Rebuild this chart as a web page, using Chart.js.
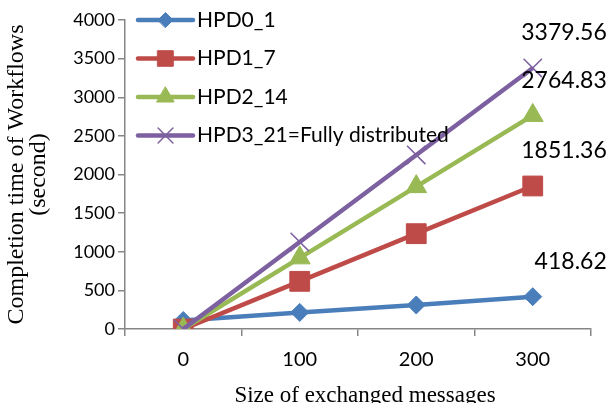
<!DOCTYPE html>
<html>
<head>
<meta charset="utf-8">
<script src="https://cdn.jsdelivr.net/npm/chart.js@4.4.1/dist/chart.umd.min.js"></script>
<style>
  html, body { margin: 0; padding: 0; background: #fff; }
  #wrap { width: 611px; height: 403px; }
</style>
</head>
<body>
<div id="wrap"><canvas id="chart"></canvas></div>
<script>
// data
const messageSizes = ['0', '100', '200', '300'];
const seriesNames = ['HPD0_1', 'HPD1_7', 'HPD2_14', 'HPD3_21=Fully distributed'];
const hpd0 = [110, 215, 311, 418.62];
const hpd1 = [0, 617, 1234, 1851.36];
const hpd2 = [0, 921, 1843, 2764.83];
const hpd3 = [0, 1127, 2253, 3379.56];
const yTicks = [0, 500, 1000, 1500, 2000, 2500, 3000, 3500, 4000];
const xTitle = 'Size of exchanged messages';
const yTitle = ['Completion time of Workflows', '(second)'];

const colors = ['#4a7ebb', '#be4b48', '#98b954', '#7d60a0'];
const styles = ['rectRot', 'rect', 'triangle', 'crossRot'];
const radii = [9, 14, 12, 13];
const legendRadii = [7.5, 11, 10, 10.5];

const series = [hpd0, hpd1, hpd2, hpd3];
const datasets = series.map((values, i) => ({
    label: seriesNames[i],
    data: values,
    borderColor: colors[i],
    backgroundColor: colors[i],
    borderWidth: 4.5,
    pointStyle: styles[i],
    pointRadius: radii[i],
    pointBackgroundColor: colors[i],
    pointBorderColor: colors[i],
    pointBorderWidth: styles[i] === 'crossRot' ? 1.5 : 1,
    tension: 0,
    order: series.length - i   // later series sit on top, like the original
}));

// legend drawn inside the plot, top left
const insideLegend = {
    id: 'insideLegend',
    afterDraw(chart) {
        const ctx = chart.ctx;
        const area = chart.chartArea;
        ctx.save();
        chart.data.datasets.forEach((ds, i) => {
            const y = area.top + i * 38.5;
            const x0 = area.left + 13;
            const x1 = x0 + 55;
            ctx.strokeStyle = ds.borderColor;
            ctx.lineWidth = 4.5;
            ctx.lineCap = 'round';
            ctx.beginPath();
            ctx.moveTo(x0, y);
            ctx.lineTo(x1, y);
            ctx.stroke();
            ctx.fillStyle = ds.borderColor;
            ctx.lineWidth = ds.pointBorderWidth;
            Chart.helpers.drawPoint(ctx, {
                pointStyle: ds.pointStyle,
                radius: legendRadii[i],
                rotation: 0,
                borderWidth: ds.pointBorderWidth
            }, (x0 + x1) / 2, y);
            ctx.fillStyle = '#000';
            ctx.font = '21px Lato';
            ctx.textAlign = 'left';
            ctx.textBaseline = 'middle';
            ctx.fillText(ds.label, x1 + 4, y);
        });
        ctx.restore();
    }
};

// value labels on the last point of each line, plus the x axis title
const lastLabels = {
    id: 'lastLabels',
    afterDatasetsDraw(chart) {
        const ctx = chart.ctx;
        ctx.save();
        ctx.fillStyle = '#000';
        ctx.font = '23px Lato';
        ctx.textAlign = 'right';
        ctx.textBaseline = 'middle';
        chart.data.datasets.forEach((ds, i) => {
            const meta = chart.getDatasetMeta(i);
            const last = ds.data.length - 1;
            const pt = meta.data[last];
            ctx.fillText(ds.data[last].toFixed(2), pt.x + 74, pt.y - 35);
        });
        const area = chart.chartArea;
        ctx.font = '23px "Liberation Serif"';
        ctx.textAlign = 'center';
        ctx.fillText(xTitle, (area.left + area.right) / 2 + 7, area.bottom + 67);
        ctx.restore();
    }
};

const axisGray = '#868686';

new Chart(document.getElementById('chart'), {
    type: 'line',
    data: { labels: messageSizes, datasets: datasets },
    options: {
        responsive: true,
        maintainAspectRatio: false,
        animation: false,
        layout: { padding: { top: 20, right: 20, left: 0, bottom: 0 } },
        plugins: {
            legend: { display: false },
            tooltip: { enabled: false }
        },
        scales: {
            x: {
                offset: true,
                grid: {
                    offset: true,
                    drawOnChartArea: false,
                    drawTicks: true,
                    tickLength: 7,
                    color: axisGray,
                    lineWidth: 1.5
                },
                border: { color: axisGray, width: 1.5 },
                ticks: {
                    color: '#000',
                    font: { family: 'Lato', size: 20 },
                    padding: 12,
                    maxRotation: 0
                },
                afterFit(scale) { scale.height = 74; }
            },
            y: {
                min: 0,
                max: 4000,
                afterBuildTicks(scale) {
                    scale.ticks = yTicks.map(v => ({ value: v }));
                },
                grid: {
                    drawOnChartArea: false,
                    drawTicks: true,
                    tickLength: 7,
                    color: axisGray,
                    lineWidth: 1.5
                },
                border: { color: axisGray, width: 1.5 },
                ticks: {
                    color: '#000',
                    font: { family: 'Lato', size: 18 },
                    padding: 3,
                    callback: v => String(v)
                },
                title: {
                    display: true,
                    text: yTitle,
                    color: '#000',
                    font: { family: 'Liberation Serif', size: 24, lineHeight: 0.92 },
                    padding: { top: 6, bottom: 0 }
                },
                afterFit(scale) { scale.width = 125; }
            }
        }
    },
    plugins: [insideLegend, lastLabels]
});
</script>
</body>
</html>
